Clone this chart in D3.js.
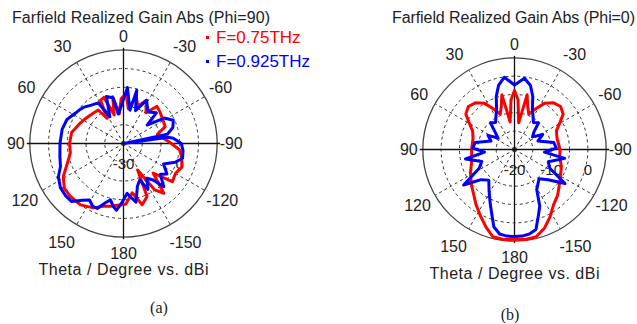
<!DOCTYPE html>
<html>
<head>
<meta charset="utf-8">
<script src="https://cdn.jsdelivr.net/npm/d3@7"></script>
<style>
  body { margin: 0; background: #fff; }
  text { font-family: "Liberation Sans", Arial, sans-serif; fill: #222; }
  .caption { font-family: "Liberation Serif", "Times New Roman", serif; }
</style>
</head>
<body>
<svg id="chart" width="637" height="324"></svg>
<script>
// theta in degrees (0 = top, positive = counter-clockwise), gain in dBi

// (a) Phi=90
const thetaA_red = [-178, -170, -163, -156, -152, -146, -141, -135, -128, -120, -112, -104, -97, -90, -82, -75, -68, -59, -50, -42, -36, -28, -21, -15, -8, -3, 3, 8, 13, 18, 23, 28, 33, 37, 45, 55, 65, 78, 90, 100, 110, 119, 127, 135, 145, 155, 162, 168, 174];
const gainA_red  = [2.5, -3.3, 4.2, 0.9, -14.0, -0.1, 4.2, -7.6, 3.1, 2.0, 3.6, 2.0, 0.4, -4.4, -8.7, -11.3, -6.0, -5.5, -4.4, -3.3, -9.7, -3.9, -8.7, -3.9, -11.3, -3.3, -6.0, -14.0, -4.4, -14.0, -3.3, -3.9, -14.0, -7.6, -7.1, -6.0, -4.4, -1.7, -1.2, -1.2, 2.0, 6.8, 9.5, 10.0, 10.0, 7.9, 5.2, 4.2, 3.1];

const thetaA_blue = [-176, -168, -162, -156, -152, -146, -141, -137, -130, -125, -117, -110, -104, -97, -90, -84, -82, -80, -78, -72, -65, -58, -52, -47, -38, -28, -20, -14, -11, -4, 2, 10, 13, 20, 27, 32, 40, 48, 53, 58, 67, 77, 90, 102, 110, 117, 125, 132, 138, 144, 149, 154, 158, 163, 167, 171, 174, 178];
const gainA_blue  = [-3.3, 2.0, -6.0, -8.7, -2.3, -7.6, -4.9, 1.5, -4.4, -1.7, -6.0, -0.7, 2.5, 2.0, 0.9, -3.3, -6.0, -28.9, -6.0, -2.3, -0.7, -4.4, -14.0, -6.0, -8.7, -3.9, -11.3, -0.7, -11.9, -0.1, -8.7, -14.0, -4.9, -3.3, -14.0, -4.4, -3.3, -1.2, -0.4, 0.4, 2.8, 3.6, 3.9, 4.7, 5.8, 9.0, 11.1, 11.6, 11.6, 7.4, 5.2, 7.4, 7.4, 3.1, 0.9, 4.2, 5.8, 2.0];

// (b) Phi=0
const thetaB_red = [-173, -166, -159, -152, -145, -137, -124, -110, -99, -90, -75, -66, -60, -54, -47, -40, -33, -27, -22, -17, -13, -9, -4, 0, 4, 9, 13, 17, 22, 27, 33, 40, 47, 54, 60, 66, 75, 90, 104, 118, 130, 137, 145, 153, 160, 166, 173, 180];
const gainB_red  = [4.7, 4.5, 2.9, 0.7, -1.5, -2.8, -5.0, -6.4, -7.5, -7.6, -8.0, -7.5, -5.8, -3.6, -2.8, -3.4, -5.0, -7.7, -9.6, -7.7, -4.7, -12.6, -6.4, -3.9, -6.4, -12.4, -4.7, -7.7, -9.6, -7.7, -5.0, -3.4, -2.8, -3.6, -5.8, -7.5, -8.3, -8.3, -8.0, -6.4, -4.7, -3.6, -1.7, 0.4, 2.6, 4.5, 4.7, 4.5];

const thetaB_blue = [-175, -170, -165, -160, -156, -151, -140, -132, -124, -118, -110, -100, -95, -88, -80, -70, -62, -55, -48, -42, -35, -29, -24, -19, -14, -8, 0, 8, 14, 19, 24, 29, 35, 42, 48, 55, 62, 70, 80, 88, 95, 101, 110, 118, 125, 132, 140, 148, 155, 160, 165, 170, 175, 180];
const gainB_blue  = [3.7, 3.4, 2.6, -0.9, -3.1, -7.5, -9.6, -7.7, -3.4, -9.1, -10.2, -6.1, -11.8, -8.6, -9.1, -13.2, -11.3, -14.0, -12.9, -10.2, -11.0, -9.6, -8.0, -4.7, -2.0, -0.4, -2.4, -0.1, -2.0, -4.7, -8.0, -9.6, -11.0, -10.2, -12.9, -14.5, -11.8, -13.2, -9.1, -8.6, -11.8, -6.4, -10.5, -9.1, -3.1, -7.7, -9.1, -6.9, -4.2, -1.7, 1.8, 3.4, 3.7, 3.7];

const angleTicks = [0, 30, 60, 90, 120, 150, 180, -150, -120, -90, -60, -30];
const ringsA = [-20, -10, 0, 10];
const ringsB = [-15, -10, -5, 0];
const radialLabelsA = [-30, 0];
const radialLabelsB = [-20, -10, 0];
const seriesNames = ['F=0.75THz', 'F=0.925THz'];
const colors = ['#ff0000', '#0000ff'];

const svg = d3.select('#chart');
const rad = d => d * Math.PI / 180;

function zip(th, g) { return th.map((t, i) => ({ theta: t, gain: g[i] })); }

function polar(cfg) {
  const { cx, cy, R, domain, rings, labels, title, titleX, titleW, series, caption, capX } = cfg;
  const r = d3.scaleLinear().domain(domain).range([0, R]).clamp(true);
  const g = svg.append('g').attr('transform', `translate(${cx},${cy})`);
  const px = (th, rr) => -rr * Math.sin(rad(th));
  const py = (th, rr) => -rr * Math.cos(rad(th));
  const labelR = th => R + 14 + 5 * Math.abs(Math.sin(rad(2 * th))) + (Math.cos(rad(th)) < 0 ? 2 : 0);
  // labels next to the vertical axis sit a bit further out sideways
  const labelShift = th => {
    const c = Math.abs(Math.cos(rad(th)));
    return (c > 0.8 && c < 0.9) ? -Math.sign(Math.sin(rad(th))) * 5 : 0;
  };

  // dashed rings
  g.selectAll('circle.ring').data(rings).enter().append('circle')
    .attr('r', d => r(d)).attr('fill', 'none')
    .attr('stroke', '#333').attr('stroke-width', 1).attr('stroke-dasharray', '3,3');

  // dashed spokes
  g.selectAll('line.spoke').data(angleTicks.filter(a => a % 90 !== 0)).enter().append('line')
    .attr('x1', 0).attr('y1', 0)
    .attr('x2', d => px(d, R)).attr('y2', d => py(d, R))
    .attr('stroke', '#333').attr('stroke-width', 1).attr('stroke-dasharray', '3,3');

  // outer circle
  g.append('circle').attr('r', R).attr('fill', 'none').attr('stroke', '#444').attr('stroke-width', 1.3);

  // solid axes
  g.append('line').attr('x1', -R - 3).attr('x2', R + 3).attr('y1', 0).attr('y2', 0).attr('stroke', '#111').attr('stroke-width', 1.3);
  g.append('line').attr('y1', -R - 2).attr('y2', R + 2).attr('x1', 0).attr('x2', 0).attr('stroke', '#111').attr('stroke-width', 1.3);

  // radial labels
  g.selectAll('text.rl').data(labels).enter().append('text')
    .attr('x', d => r(d)).attr('y', 25)
    .attr('text-anchor', 'middle').attr('font-size', 15)
    .text(d => d);

  // curves
  const line = d3.lineRadial()
    .angle(d => -rad(d.theta))
    .radius(d => r(d.gain))
    .curve(d3.curveLinearClosed);
  series.forEach((s, i) => {
    g.append('path').datum(s).attr('d', line)
      .attr('fill', 'none').attr('stroke', colors[i])
      .attr('stroke-width', 3).attr('stroke-linejoin', 'round');
  });

  // angle labels
  g.selectAll('text.al').data(angleTicks).enter().append('text')
    .attr('x', d => px(d, labelR(d)) + labelShift(d))
    .attr('y', d => py(d, labelR(d)))
    .attr('dy', '0.36em').attr('text-anchor', 'middle').attr('font-size', 16)
    .text(d => d);

  svg.append('text').attr('x', titleX).attr('y', 22.5).attr('font-size', 16)
    .attr('textLength', titleW).text(title);
  svg.append('text').attr('x', cx).attr('y', cy + R + 38).attr('text-anchor', 'middle')
    .attr('font-size', 16).attr('textLength', 170).text('Theta / Degree vs. dBi');
  svg.append('text').attr('class', 'caption').attr('x', capX).attr('y', cfg.capY)
    .attr('text-anchor', 'middle').attr('font-size', 16).text(caption);
}

polar({
  cx: 123.5, cy: 143.5, R: 93.7, domain: [-30, 20], rings: ringsA, labels: radialLabelsA,
  title: 'Farfield Realized Gain Abs (Phi=90)', titleX: 12, titleW: 258,
  series: [zip(thetaA_red, gainA_red), zip(thetaA_blue, gainA_blue)],
  caption: '(a)', capX: 159, capY: 313
});
polar({
  cx: 514.5, cy: 149.5, R: 91.7, domain: [-20, 5], rings: ringsB, labels: radialLabelsB,
  title: 'Farfield Realized Gain Abs (Phi=0)', titleX: 392, titleW: 243,
  series: [zip(thetaB_red, gainB_red), zip(thetaB_blue, gainB_blue)],
  caption: '(b)', capX: 510, capY: 320
});

// legend
const legend = svg.append('g');
seriesNames.forEach((name, i) => {
  legend.append('rect').attr('x', 206).attr('y', 36 + i * 24).attr('width', 3).attr('height', 3).attr('fill', colors[i]);
  legend.append('text').attr('x', 216).attr('y', 43 + i * 24).attr('font-size', 17)
    .style('fill', colors[i]).text(name);
});
</script>
</body>
</html>
